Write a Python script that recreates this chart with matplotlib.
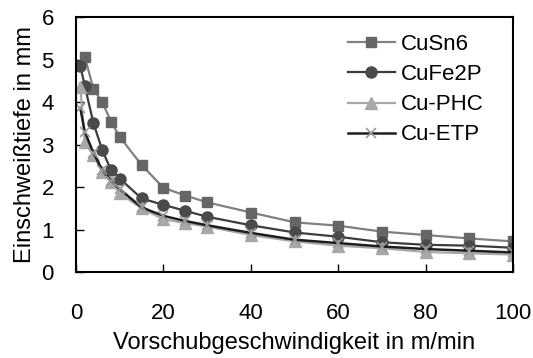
import numpy as np
import matplotlib
matplotlib.use('Agg')
import matplotlib.pyplot as plt

plt.rcParams['font.family'] = ['Liberation Sans', 'DejaVu Sans']

# Vorschubgeschwindigkeit in m/min
v = [1, 2, 4, 6, 8, 10, 15, 20, 25, 30, 40, 50, 60, 70, 80, 90, 100]
v_sn = v[1:]

# Einschweisstiefe in mm
t_cusn6 = [5.07, 4.30, 4.00, 3.54, 3.18, 2.52, 1.98, 1.80, 1.64, 1.40, 1.17, 1.09, 0.95, 0.87, 0.79, 0.72]
t_cufe2p = [4.85, 4.38, 3.50, 2.87, 2.40, 2.20, 1.73, 1.58, 1.44, 1.30, 1.10, 0.93, 0.83, 0.70, 0.64, 0.62, 0.57]
t_cuphc = [4.35, 3.05, 2.75, 2.35, 2.12, 1.85, 1.50, 1.24, 1.15, 1.07, 0.87, 0.72, 0.62, 0.56, 0.47, 0.44, 0.41]
t_cuetp = [3.85, 3.30, 2.80, 2.40, 2.15, 1.95, 1.52, 1.32, 1.20, 1.10, 0.92, 0.76, 0.68, 0.60, 0.54, 0.50, 0.46]

fig = plt.figure(figsize=(5.33, 3.58), dpi=100)
ax = fig.add_axes([0.1426, 0.2402, 0.82, 0.7123])

ax.plot(v_sn, t_cusn6, color='#808080', lw=1.6, marker='s', ms=7,
        mfc='#666666', mec='#666666', label='CuSn6')
ax.plot(v, t_cufe2p, color='#3c3c3c', lw=1.6, marker='o', ms=8,
        mfc='#4a4a4a', mec='#4a4a4a', label='CuFe2P')
ax.plot(v, t_cuphc, color='#a8a8a8', lw=1.6, marker='^', ms=8,
        mfc='#a8a8a8', mec='#a8a8a8', label='Cu-PHC')
ax.plot(v, t_cuetp, color='#1e1e1e', lw=1.8, marker='x', ms=7, mew=1.2,
        mec='#9a9a9a', label='Cu-ETP')

ax.set_xlim(0, 100)
ax.set_ylim(0, 6)
ax.set_xticks([0, 20, 40, 60, 80, 100])
ax.set_yticks([0, 1, 2, 3, 4, 5, 6])
ax.tick_params(direction='in', length=6, width=1, labelsize=16, colors='black')
ax.tick_params(axis='x', pad=22)
ax.tick_params(axis='y', pad=16)
for s in ax.spines.values():
    s.set_linewidth(1.5)

ax.set_xlabel('Vorschubgeschwindigkeit in m/min', fontsize=17, labelpad=6)
ax.set_ylabel('Einschweißtiefe in mm', fontsize=17, labelpad=4)

ax.legend(loc='upper left', frameon=False, fontsize=16, handlelength=2.1,
          handletextpad=0.3, labelspacing=0.41, borderpad=0, borderaxespad=0,
          bbox_to_anchor=(0.622, 0.933))

fig.savefig('out.png', dpi=100)
